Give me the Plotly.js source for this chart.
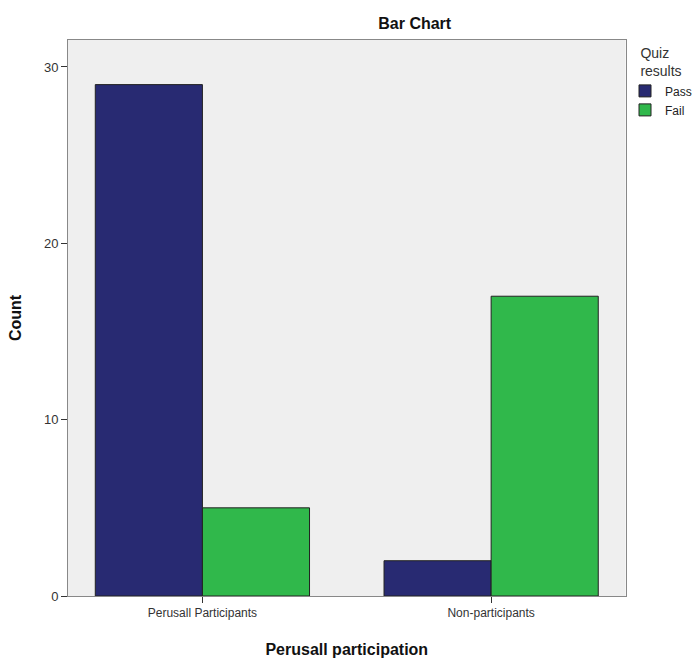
<!DOCTYPE html>
<html><head><meta charset="utf-8">
<script src="https://cdn.plot.ly/plotly-3.0.1.min.js"></script>
<style>body{margin:0;background:#fff}</style>
</head><body>
<div id="chart" style="width:697px;height:661px"></div>
<script>
const categories = ["Perusall Participants", "Non-participants"];
const passCounts = [29, 2];
const failCounts = [5, 17];
const seriesNames = ["Pass", "Fail"];
const yTicks = [0, 10, 20, 30];

const data = [
  {type: "bar", x: categories, y: passCounts, name: seriesNames[0],
    marker: {color: "#282a72", line: {color: "#222", width: 1}}},
  {type: "bar", x: categories, y: failCounts, name: seriesNames[1],
    marker: {color: "#30b84b", line: {color: "#222", width: 1}}}
];
const layout = {
  width: 697, height: 661,
  margin: {l: 68, r: 0, t: 40, b: 65},
  paper_bgcolor: "#fff", plot_bgcolor: "#efefef",
  font: {family: "Liberation Sans, Arial, sans-serif", size: 12, color: "#222"},
  title: {text: "<b>Bar Chart</b>", xref: "container", x: 0.595, xanchor: "center",
    yref: "container", y: 0.965, yanchor: "middle", font: {size: 16, color: "#111"}},
  barmode: "group", bargap: 0.258, bargroupgap: 0,
  xaxis: {type: "category", domain: [0, 0.8935], range: [-0.4655, 1.4655], showgrid: false, zeroline: false,
    ticks: "outside", ticklen: 6, tickcolor: "#333", showline: true, linecolor: "#888", mirror: true,
    tickfont: {size: 12, color: "#333"},
    title: {text: "<b>Perusall participation</b>", font: {size: 16, color: "#111"}, standoff: 24}},
  yaxis: {range: [0, 31.53], tickvals: yTicks, showgrid: false, zeroline: false,
    ticks: "outside", ticklen: 6, tickcolor: "#333", showline: true, linecolor: "#888", mirror: true,
    tickfont: {size: 13, color: "#333"},
    title: {text: "<b>Count</b>", font: {size: 16, color: "#111"}, standoff: 18}},
  legend: {x: 0.893, y: 1.0, xanchor: "left", yanchor: "top", bgcolor: "rgba(0,0,0,0)",
    font: {size: 12, color: "#222"}, itemwidth: 30, tracegroupgap: 0,
    title: {text: "Quiz<br>results", font: {size: 14, color: "#333"}, side: "top center"}}
};
Plotly.newPlot("chart", data, layout, {displayModeBar: false});
</script>
</body></html>
